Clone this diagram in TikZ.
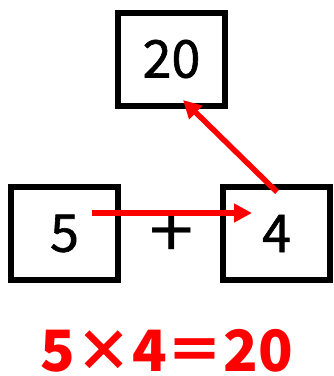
\documentclass[tikz,border=0pt]{standalone}
\usepackage{fontspec}
\setmainfont{Noto Sans CJK JP}
\newfontfamily\boxfont[FakeBold=1.2]{Noto Sans CJK JP}
\newfontfamily\plusfont{DejaVu Sans}
\usetikzlibrary{arrows.meta}
\begin{document}
\begin{tikzpicture}[x=1pt,y=-1pt,
  numbox/.style={draw=black,line width=6pt,minimum width=107pt,minimum height=93pt,inner sep=0pt,font=\boxfont\fontsize{52}{52}\selectfont},
  redarrow/.style={draw=red,line width=5.5pt,-{Triangle[length=18pt,width=18pt]}}]
\useasboundingbox (0,0) rectangle (334,376);
\node[numbox] (top) at (171.5,59) {20};
\node[numbox] (left) at (64.5,233.5) {5};
\node[numbox] (right) at (276.5,233.5) {4};
\node[font=\fontsize{80}{80}\selectfont,yscale=0.95] (plus) at (172,235) {+};
\coordinate (hs) at (92,213);
\coordinate (he) at (252,213);
\coordinate (ds) at (277,192);
\coordinate (de) at (183,100);
\draw[redarrow] (hs) -- (he);
\draw[redarrow] (ds) -- (de);
\node[text=red,anchor=base,inner sep=0pt,text depth=0pt,font=\fontsize{57}{57}\selectfont\bfseries] (eq) at (167,371) {5×4＝20};
\end{tikzpicture}
\end{document}
